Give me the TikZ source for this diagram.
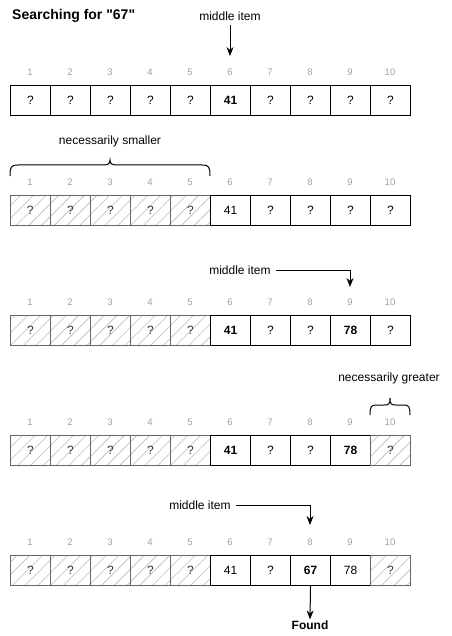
\documentclass[tikz,border=0pt]{standalone}
\usepackage{fontspec}
\setmainfont{Liberation Sans}
\newfontfamily\rawfont{Liberation Sans}[Ligatures=TeXOff]
\usetikzlibrary{arrows.meta,patterns.meta}
\definecolor{idxgray}{HTML}{A0A0A0}
\definecolor{hatchline}{HTML}{BBBBBB}
\definecolor{hatchborder}{HTML}{666666}
\definecolor{hatchtext}{HTML}{333333}
\begin{document}
\begin{tikzpicture}[x=1pt,y=-1pt,
  cell/.style={draw=black, line width=1pt, minimum width=40pt, minimum height=30pt,
    inner sep=0pt, anchor=north west, font=\fontsize{12}{14}\selectfont},
  bcell/.style={cell, font=\fontsize{12}{14}\selectfont\bfseries},
  hcell/.style={cell, draw=hatchborder, text=hatchtext,
    pattern={Lines[angle=45,distance=9pt,line width=0.6pt]}, pattern color=hatchline},
  idx/.style={text=idxgray, font=\fontsize{9.5}{11}\selectfont, inner sep=0pt},
  lbl/.style={font=\fontsize{12}{14}\selectfont, inner sep=1pt},
  arr/.style={line width=1pt, -{Stealth[length=9pt,width=7pt]}},
  brc/.style={line width=1pt}
]
\useasboundingbox (0,0) rectangle (451,636);

\node[anchor=west, font=\rawfont\fontsize{14}{16}\selectfont\bfseries, inner sep=0pt] (title) at (12,16) {Searching for "67"};

% ---------- Row 1 ----------
\foreach \i in {1,...,10} \node[idx] (i1n\i) at ({30+40*(\i-1)},72) {\i};
\foreach \i/\t/\s in {1/?/cell,2/?/cell,3/?/cell,4/?/cell,5/?/cell,6/41/bcell,7/?/cell,8/?/cell,9/?/cell,10/?/cell}
  \node[\s] (r1c\i) at ({10+40*(\i-1)},85) {\t};
\node[lbl] (mid1) at (230,16) {middle item};
\coordinate (tip1) at (230,56);
\draw[arr] (mid1.south) ++(0,3) -- (tip1);

% ---------- Row 2 ----------
\node[lbl] (small) at (110,141) {necessarily smaller};
\draw[brc] (10,176) .. controls (10,167) and (11,165) .. (18,165) -- (102,165)
  .. controls (108,165) and (110,164) .. (110,160)
  .. controls (110,164) and (112,165) .. (118,165) -- (202,165)
  .. controls (209,165) and (210,167) .. (210,176);
\foreach \i in {1,...,10} \node[idx] (i2n\i) at ({30+40*(\i-1)},182) {\i};
\foreach \i/\t/\s in {1/?/hcell,2/?/hcell,3/?/hcell,4/?/hcell,5/?/hcell,6/41/cell,7/?/cell,8/?/cell,9/?/cell,10/?/cell}
  \node[\s] (r2c\i) at ({10+40*(\i-1)},195) {\t};

% ---------- Row 3 ----------
\node[lbl] (mid3) at (240,270) {middle item};
\coordinate (tip3) at (350,287);
\draw[arr] ([xshift=4pt]mid3.east) -| (tip3);
\foreach \i in {1,...,10} \node[idx] (i3n\i) at ({30+40*(\i-1)},302) {\i};
\foreach \i/\t/\s in {1/?/hcell,2/?/hcell,3/?/hcell,4/?/hcell,5/?/hcell,6/41/bcell,7/?/cell,8/?/cell,9/78/bcell,10/?/cell}
  \node[\s] (r3c\i) at ({10+40*(\i-1)},315) {\t};

% ---------- Row 4 ----------
\node[lbl] (great) at (389,378) {necessarily greater};
\draw[brc] (370,415) .. controls (370,407) and (371,405) .. (376,405) -- (384,405)
  .. controls (389,405) and (390,404) .. (390,398)
  .. controls (390,404) and (391,405) .. (396,405) -- (404,405)
  .. controls (409,405) and (410,407) .. (410,415);
\foreach \i in {1,...,10} \node[idx] (i4n\i) at ({30+40*(\i-1)},422) {\i};
\foreach \i/\t/\s in {1/?/hcell,2/?/hcell,3/?/hcell,4/?/hcell,5/?/hcell,6/41/bcell,7/?/cell,8/?/cell,9/78/bcell,10/?/hcell}
  \node[\s] (r4c\i) at ({10+40*(\i-1)},435) {\t};

% ---------- Row 5 ----------
\node[lbl] (mid5) at (200,505) {middle item};
\coordinate (tip5) at (310,525);
\draw[arr] ([xshift=4pt]mid5.east) -| (tip5);
\foreach \i in {1,...,10} \node[idx] (i5n\i) at ({30+40*(\i-1)},542) {\i};
\foreach \i/\t/\s in {1/?/hcell,2/?/hcell,3/?/hcell,4/?/hcell,5/?/hcell,6/41/cell,7/?/cell,8/67/bcell,9/78/cell,10/?/hcell}
  \node[\s] (r5c\i) at ({10+40*(\i-1)},555) {\t};
\node[font=\fontsize{12}{14}\selectfont\bfseries, inner sep=1pt] (found) at (310,625) {Found};
\draw[arr] (r5c8.south) -- (found.north);
\end{tikzpicture}
\end{document}
